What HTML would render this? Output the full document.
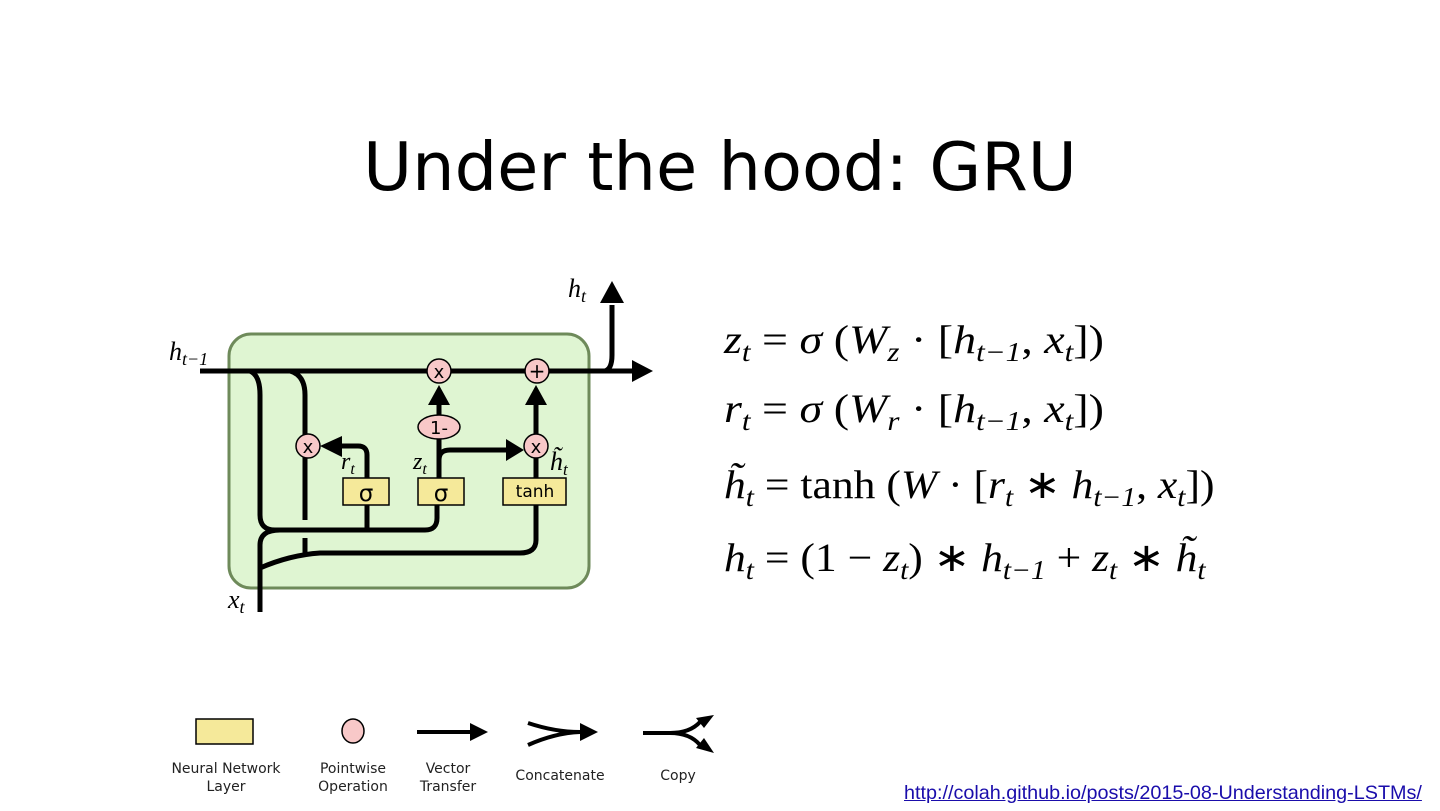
<!DOCTYPE html>
<html><head><meta charset="utf-8"><style>
body{margin:0;background:#fff;}
#c{position:relative;width:1440px;height:811px;overflow:hidden;font-family:"Liberation Sans",sans-serif;}
.t{position:absolute;left:0;width:1440px;top:128px;text-align:center;font-family:"DejaVu Sans","Liberation Sans",sans-serif;font-size:67px;color:#000;}
.eq{position:absolute;left:724px;font-family:"Liberation Serif",serif;font-size:40px;white-space:nowrap;color:#000;transform-origin:0 0;}
.eq i{font-style:italic}
.eq sub{font-size:27px;vertical-align:-8px;line-height:0;font-style:italic}
.lnk{position:absolute;left:904px;top:782px;font-size:19.8px;color:#1a0dab;text-decoration:underline;white-space:nowrap;}
.lg{position:absolute;font-family:"DejaVu Sans",sans-serif;font-size:14px;text-align:center;line-height:18px;color:#222;}
</style></head><body><div id="c">
<div class="t">Under the hood: GRU</div>
<svg width="1440" height="811" style="position:absolute;left:0;top:0">
<rect x="229" y="334" width="360" height="254" rx="22" fill="#dff5d2" stroke="#6e8a5a" stroke-width="3"/>
<g fill="none" stroke="#000" stroke-width="5">
<path d="M200,371 H635"/>
<path d="M578,371 Q596,371 605,371 Q612,369 612,355 V305"/>
<path d="M250,371 Q260,375 260,395 V515 Q260,530 275,530 H425 Q437,530 437,518 V505"/>
<path d="M367,505 V530"/>
<path d="M290,371 Q305,375 305,395 V520 M305,538 V555"/>
<path d="M260,612 V545 Q260,530 280,530"/>
<path d="M260,568 Q290,555 320,553 H520 Q536,553 536,540 V505"/>
<path d="M367,478 V455 Q367,446 358,446 H342"/>
<path d="M439,478 V439 M439,415 V400"/>
<path d="M439,460 Q439,450 450,450 H510"/>
<path d="M536,478 V458 M536,434 V400"/>
</g>
<g fill="#000">
<polygon points="653,371 632,360 632,382"/>
<polygon points="612,281 600,303 624,303"/>
<polygon points="320,446 342,436 342,457"/>
<polygon points="439,385 428,405 450,405"/>
<polygon points="536,385 525,405 547,405"/>
<polygon points="524,450 506,439 506,461"/>
</g>
<g fill="#f8c8c8" stroke="#000" stroke-width="1.5">
<circle cx="439" cy="371" r="12"/><circle cx="537" cy="371" r="12"/>
<circle cx="308" cy="446" r="12"/><circle cx="536" cy="446" r="12"/>
<ellipse cx="439" cy="427" rx="21" ry="12"/>
<ellipse cx="353" cy="731" rx="11" ry="12"/>
</g>
<g fill="#f5e99a" stroke="#000" stroke-width="1.5">
<rect x="343" y="478" width="46" height="27"/><rect x="418" y="478" width="46" height="27"/><rect x="503" y="478" width="63" height="27"/>
<rect x="196" y="719" width="57" height="25"/>
</g>
<g font-family="DejaVu Sans,sans-serif" text-anchor="middle" fill="#000">
<text x="439" y="378" font-size="18">x</text><text x="537" y="378" font-size="20">+</text>
<text x="308" y="453" font-size="18">x</text><text x="536" y="453" font-size="18">x</text>
<text x="439" y="434" font-size="18">1-</text>
<text x="366" y="501" font-size="23">σ</text><text x="441" y="501" font-size="23">σ</text>
<text x="535" y="497" font-size="17">tanh</text>
</g>
<g font-family="Liberation Serif,serif" font-style="italic" fill="#000">
<text x="169" y="360" font-size="26">h<tspan font-size="18" dy="5">t−1</tspan></text>
<text x="568" y="297" font-size="26">h<tspan font-size="18" dy="5">t</tspan></text>
<text x="228" y="608" font-size="26">x<tspan font-size="18" dy="5">t</tspan></text>
<text x="341" y="469" font-size="24">r<tspan font-size="16" dy="5">t</tspan></text>
<text x="413" y="469" font-size="24">z<tspan font-size="16" dy="5">t</tspan></text>
<text x="550" y="470" font-size="26">h̃<tspan font-size="17" dy="5">t</tspan></text>
</g>
<g fill="none" stroke="#000" stroke-width="4">
<path d="M417,732 H472"/>
<path d="M528,723 Q555,732 580,732 M528,745 Q555,733 580,732"/>
<path d="M643,733 H670 Q690,733 700,722 M670,733 Q690,733 700,745"/>
</g>
<g fill="#000">
<polygon points="488,732 470,723 470,741"/>
<polygon points="598,732 580,723 580,741"/>
<polygon points="714,715 696,718 704,728"/>
<polygon points="714,753 704,738 696,748"/>
</g>
</svg>
<div class="lg" style="left:166px;top:760px;width:120px">Neural Network<br>Layer</div>
<div class="lg" style="left:296px;top:760px;width:114px">Pointwise<br>Operation</div>
<div class="lg" style="left:398px;top:760px;width:100px">Vector<br>Transfer</div>
<div class="lg" style="left:504px;top:767px;width:112px">Concatenate</div>
<div class="lg" style="left:640px;top:767px;width:76px">Copy</div>
<div class="eq" style="top:316px;transform:scaleX(1.15)"><i>z</i><sub>t</sub> = <i>σ</i> (<i>W</i><sub>z</sub> · [<i>h</i><sub>t−1</sub>, <i>x</i><sub>t</sub>])</div>
<div class="eq" style="top:385px;transform:scaleX(1.15)"><i>r</i><sub>t</sub> = <i>σ</i> (<i>W</i><sub>r</sub> · [<i>h</i><sub>t−1</sub>, <i>x</i><sub>t</sub>])</div>
<div class="eq" style="top:461px;transform:scaleX(1.09)"><i>h̃</i><sub>t</sub> = tanh (<i>W</i> · [<i>r</i><sub>t</sub> ∗ <i>h</i><sub>t−1</sub>, <i>x</i><sub>t</sub>])</div>
<div class="eq" style="top:534px;transform:scaleX(1.09)"><i>h</i><sub>t</sub> = (1 − <i>z</i><sub>t</sub>) ∗ <i>h</i><sub>t−1</sub> + <i>z</i><sub>t</sub> ∗ <i>h̃</i><sub>t</sub></div>
<div class="lnk">http://colah.github.io/posts/2015-08-Understanding-LSTMs/</div>
</div></body></html>
